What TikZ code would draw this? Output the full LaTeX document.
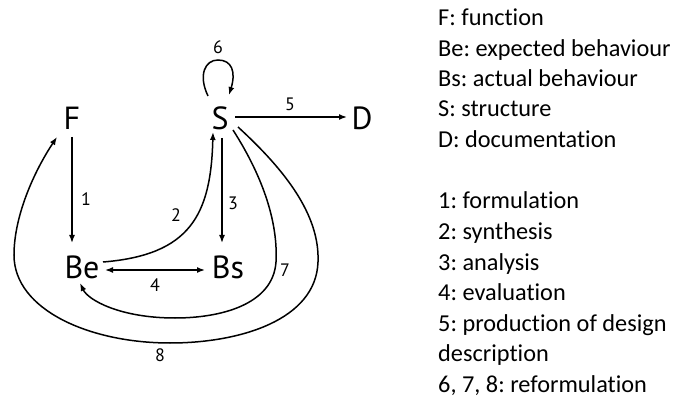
\documentclass[tikz,border=0pt]{standalone}
\usepackage{fontspec}
\setmainfont[Ligatures=NoCommon]{Carlito}
\newfontfamily\dfont{PT Sans}
\usetikzlibrary{arrows.meta}
\frenchspacing
\begin{document}
\begin{tikzpicture}[x=1pt,y=-1pt,
  letter/.style={inner sep=0pt,font=\dfont\fontsize{32}{36}\selectfont},
  num/.style={inner sep=0pt,font=\dfont\fontsize{18}{20}\selectfont},
  leg/.style={inner sep=0pt,anchor=base west,font=\fontsize{24.3}{28}\selectfont},
  arr/.style={line width=1.5pt,-{Latex[length=8pt,width=6pt]}},
  darr/.style={line width=1.5pt,{Latex[length=8pt,width=6pt]}-{Latex[length=8pt,width=6pt]}}]
\useasboundingbox (0,0) rectangle (681,401);
% main nodes
\node[letter] (F) at (72,118) {F};
\node[letter] (S) at (220,118) {S};
\node[letter] (D) at (362,118) {D};
\node[letter] (Be) at (82,267) {Be};
\node[letter] (Bs) at (228,267) {Bs};
% labels
\node[num] (n1) at (86,199) {1};
\node[num] (n2) at (176,215) {2};
\node[num] (n3) at (233,203) {3};
\node[num] (n4) at (155,285) {4};
\node[num] (n5) at (290,104) {5};
\node[num] (n6) at (218,47) {6};
\node[num] (n7) at (285,270) {7};
\node[num] (n8) at (160,355) {8};
% connectors
\draw[arr] ([yshift=-19pt]F.center) -- ([xshift=-10pt,yshift=24pt]Be.center);
\draw[arr] ([xshift=2pt,yshift=-20pt]S.center) -- ([xshift=-6pt,yshift=24pt]Bs.center);
\draw[arr] ([xshift=15pt,yshift=1pt]S.center) -- ([xshift=-15pt,yshift=1pt]D.center);
\draw[darr] ([xshift=23pt,yshift=-3pt]Be.center) -- ([xshift=-23pt,yshift=-3pt]Bs.center);
% 2: synthesis
\draw[arr] ([xshift=21pt,yshift=5pt]Be.center) .. controls (190,255) and (211,215) .. ([xshift=-7pt,yshift=-14pt]S.center);
% 6: self loop
\draw[arr] ([xshift=-12pt,yshift=22pt]S.center) .. controls (198,75) and (205,60) .. (218,60)
  .. controls (232,60) and (236,72) .. ([xshift=9pt,yshift=23pt]S.center);
% 7
\draw[arr] ([xshift=13pt,yshift=-12pt]S.center) .. controls (265,180) and (278,225) .. (276,262)
  .. controls (273,305) and (220,318) .. (175,318)
  .. controls (120,318) and (88,300) .. ([xshift=-2pt,yshift=-16pt]Be.center);
% 8
\draw[arr] ([xshift=18pt,yshift=-9pt]S.center) .. controls (285,170) and (320,215) .. (318,262)
  .. controls (316,320) and (240,343) .. (170,343)
  .. controls (90,343) and (14,310) .. (14,255)
  .. controls (14,215) and (35,170) .. ([xshift=-15pt,yshift=-19pt]F.center);
% legend
\node[leg] (l1) at (438,26) {F: function};
\node[leg] (l2) at (438,56.3) {Be: expected behaviour};
\node[leg] (l3) at (438,86.6) {Bs: actual behaviour};
\node[leg] (l4) at (438,116.9) {S: structure};
\node[leg] (l5) at (438,147.2) {D: documentation};
\node[leg] (l6) at (438,209) {1: formulation};
\node[leg] (l7) at (438,239.5) {2: synthesis};
\node[leg] (l8) at (438,270) {3: analysis};
\node[leg] (l9) at (438,300.5) {4: evaluation};
\node[leg] (l10) at (438,331) {5: production of design};
\node[leg] (l11) at (438,361.5) {description};
\node[leg] (l12) at (438,392) {6, 7, 8: reformulation};
\end{tikzpicture}
\end{document}
